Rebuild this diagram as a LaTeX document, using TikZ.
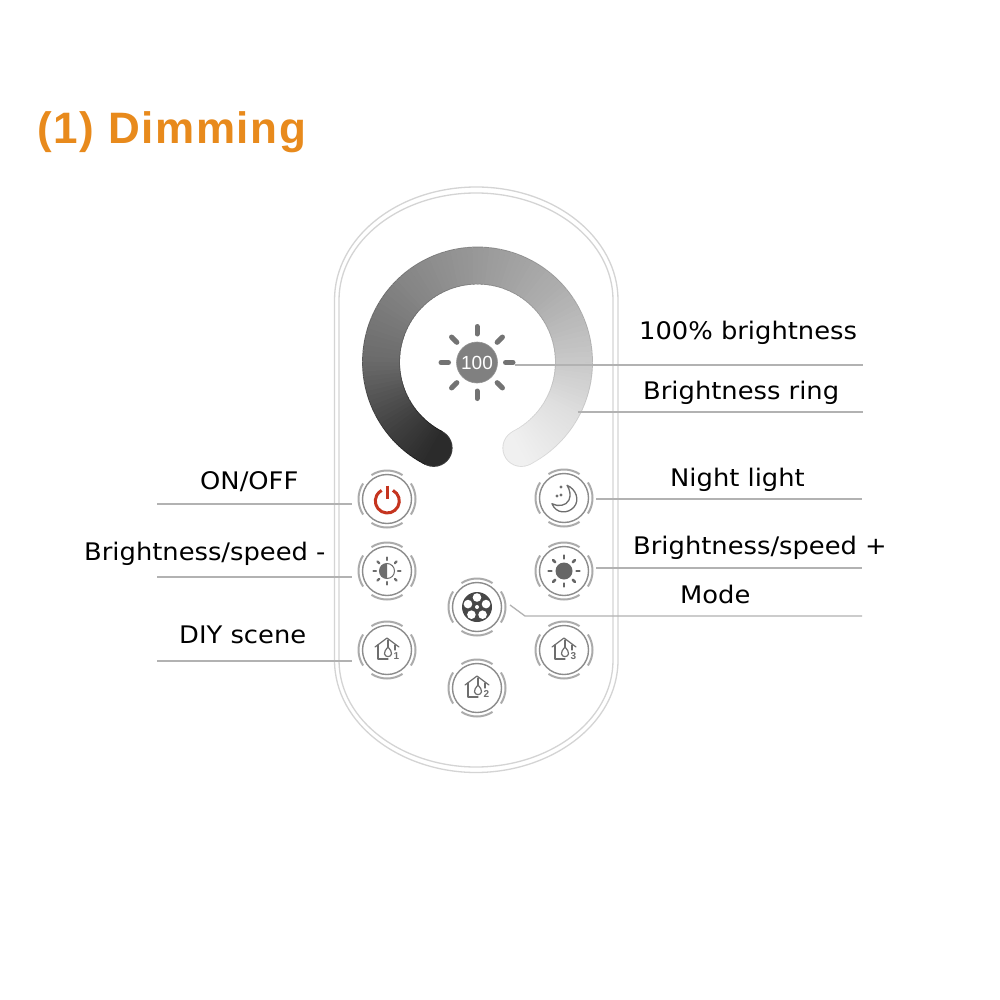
\documentclass[tikz,border=0pt]{standalone}
\usepackage{fontspec}
\setmainfont{DejaVu Sans}
\newfontfamily\arialf{Liberation Sans}
\newfontfamily\labf[FakeStretch=1.065]{DejaVu Sans}
\definecolor{titleor}{HTML}{E88A1C}
\definecolor{shellc}{HTML}{D4D4D4}
\definecolor{leadc}{HTML}{B2B2B2}
\definecolor{btnc}{HTML}{8C8C8C}
\definecolor{arcc}{HTML}{ABABAB}
\definecolor{iconc}{HTML}{6E6E6E}
\definecolor{redc}{HTML}{C5341F}
\tikzset{
  shell/.style={draw=shellc,line width=1.3pt},
  leader/.style={draw=leadc,line width=1.3pt},
  lab/.style={anchor=base west,inner sep=0pt,font=\labf\fontsize{24.2}{28}\selectfont,text=black},
  btn/.style={circle,draw=btnc,line width=1.4pt,minimum size=49pt,inner sep=0pt},
  ico/.style={draw=iconc,line width=1.2pt,line cap=round,line join=round},
}
\usetikzlibrary{calc}
\newcommand{\btnarcs}[1]{%
  \foreach \c in {0,90,180,270}{
    \pgfmathsetmacro{\s}{\c-33}
    \draw[arcc,line width=2pt] ($(#1)+(\s:28.5pt)$) arc[start angle=\s,delta angle=66,radius=28.5pt];
  }}
\newcommand{\sunrays}[5]{% centre, r0, r1, width, colour
  \foreach \c in {0,45,...,315}{
    \draw[#5,line width=#4pt,line cap=round] ($(#1)+(\c:#2pt)$) -- ($(#1)+(\c:#3pt)$);
  }}
\newcommand{\houseicon}[2]{%
  \begin{scope}[shift={(#1)}]
    \draw[ico] (-12,3) -- (0,12) -- (12,3);
    \draw[ico] (-9,5) -- (-9,-9) -- (1,-9);
    \draw[ico] (8,5) -- (8,0);
    \draw[ico] (1,10) -- (1,3);
    \draw[ico] (1,3) .. controls (3.5,0) and (5,-2) .. (4.5,-4) .. controls (3.5,-7.5) and (-1.5,-7.5) .. (-2.5,-4) .. controls (-3,-2) and (-1.5,0) .. (1,3);
    \node[inner sep=0pt,font=\arialf\bfseries\fontsize{10}{10}\selectfont,text=iconc] (n#2) at (9.5,-6) {#2};
  \end{scope}}
\newcommand{\ringpass}[2]{% colour offset, line width
  \foreach \aa/\ab/\ga/\gb in {243/220/.17/.25,220/180/.25/.42,180/135/.42/.52,135/90/.52/.60,90/45/.60/.68,45/0/.68/.79,0/-30/.79/.88,-30/-63/.88/.94}{
    \foreach \n in {0,...,15}{
      \pgfmathsetmacro{\st}{\aa+(\ab-\aa)*\n/16}
      \pgfmathsetmacro{\dl}{(\ab-\aa)/16-0.5}
      \pgfmathsetmacro{\g}{max(0,\ga+(\gb-\ga)*\n/16+#1)}
      \definecolor{ringc}{gray}{\g}
      \draw[ringc,line width=#2pt] ($(ringcen)+(\st:96.5pt)$) arc[start angle=\st,delta angle=\dl,radius=96.5pt];
    }
  }}
\begin{document}
\begin{tikzpicture}[x=1pt,y=1pt]
\useasboundingbox (0,0) rectangle (1000,-1000);
\fill[white] (0,0) rectangle (1000,-1000);

% title
\node[anchor=base west,inner sep=0pt,text=titleor,font=\arialf\bfseries\fontsize{44}{48}\selectfont\addfontfeatures{LetterSpace=3.7}] (title) at (37,-144) {(1) Dimming};

% shell
\draw[shell] (334.5,-300) arc[start angle=180,end angle=0,x radius=141.75pt,y radius=113pt] -- (618,-660) .. controls (618,-725) and (550,-772.5) .. (476,-772.5) .. controls (402,-772.5) and (334.5,-725) .. (334.5,-660) -- cycle;
\draw[shell] (339,-300) arc[start angle=180,end angle=0,x radius=137pt,y radius=107pt] -- (613,-660) .. controls (613,-722) and (548,-767) .. (476,-767) .. controls (404,-767) and (339,-722) .. (339,-660) -- cycle;

% ring
\coordinate (ringcen) at (477.5,-362);
\fill[black!75] ($(ringcen)+(243:96.5pt)$) circle[radius=18.9pt];
\fill[black!14] ($(ringcen)+(-63:96.5pt)$) circle[radius=18.9pt];
\ringpass{-0.07}{37.8}
\fill[black!83] ($(ringcen)+(243:96.5pt)$) circle[radius=18pt];
\fill[black!6] ($(ringcen)+(-63:96.5pt)$) circle[radius=18pt];
\ringpass{0}{36}

% sun
\node[circle,fill=black!50,draw=black!42,line width=.6pt,minimum size=41pt,inner sep=0pt,text=white,font=\arialf\fontsize{19}{19}\selectfont] (sun) at (477,-362.5) {100};
\sunrays{sun.center}{28.5}{36}{5}{black!55}

% buttons
\node[btn] (power) at (387,-499) {};
\node[btn] (minus) at (387,-571) {};
\node[btn] (diy1)  at (387,-650) {};
\node[btn] (night) at (564,-498) {};
\node[btn] (plus)  at (564,-571) {};
\node[btn] (mode)  at (477,-607) {};
\node[btn] (diy3)  at (564,-650) {};
\node[btn] (diy2)  at (477,-688) {};
\foreach \b in {power,minus,diy1,night,plus,mode,diy3,diy2}{\btnarcs{\b.center}}

% power icon
\coordinate (pw) at (387.3,-501);
\draw[redc,line width=3pt] ($(pw)+(62:12pt)$) arc[start angle=62,delta angle=-304,radius=12pt];
\draw[redc,line width=2.8pt] (387.3,-485.5) -- (387.3,-499);

% half sun
\fill[iconc] (minus.center) ++(0,7.5) arc[start angle=90,delta angle=180,radius=7.5pt] -- cycle;
\draw[iconc,line width=1pt] (minus.center) circle[radius=7.5pt];
\sunrays{minus.center}{11}{13.5}{2.2}{iconc}

% full sun
\fill[black!60] (plus.center) circle[radius=8.5pt];
\sunrays{plus.center}{12.5}{15.5}{2.6}{black!60}

% moon
\draw[ico,line width=1.3pt] (567,-485.3) .. controls (576,-489) and (580,-500) .. (574,-507) .. controls (568,-514) and (556,-514) .. (552,-503.7) .. controls (558,-507) and (566,-506) .. (569,-500) .. controls (571,-495) and (570,-490) .. (567,-485.3) -- cycle;
\fill[iconc] (561,-487) circle[radius=1.7pt] (557,-496) circle[radius=1.7pt] (561,-495) circle[radius=1.7pt];

% mode icon
\fill[black!72] (mode.center) circle[radius=15pt];
\foreach \c in {90,162,234,306,18}{\fill[white] ($(mode.center)+(\c:9.5pt)$) circle[radius=4.3pt];}
\fill[white] (mode.center) circle[radius=2pt];

% houses
\houseicon{diy1.center}{1}
\houseicon{diy2.center}{2}
\houseicon{diy3.center}{3}

% connectors
\coordinate (a1) at (515,-365);  \coordinate (a2) at (863,-365);
\coordinate (b1) at (578,-412);  \coordinate (b2) at (863,-412);
\coordinate (c1) at (596,-499);  \coordinate (c2) at (862,-499);
\coordinate (d1) at (596,-568);  \coordinate (d2) at (862,-568);
\coordinate (e1) at (510,-605);  \coordinate (e3) at (525,-616); \coordinate (e2) at (862,-616);
\coordinate (f1) at (157,-504);  \coordinate (f2) at (352,-504);
\coordinate (g1) at (157,-577);  \coordinate (g2) at (352,-577);
\coordinate (h1) at (157,-661);  \coordinate (h2) at (352,-661);
\draw[leader] (a1) -- (a2);
\draw[leader] (b1) -- (b2);
\draw[leader] (c1) -- (c2);
\draw[leader] (d1) -- (d2);
\draw[leader] (e1) -- (e3) -- (e2);
\draw[leader] (f1) -- (f2);
\draw[leader] (g1) -- (g2);
\draw[leader] (h1) -- (h2);

% labels
\node[lab] (l1) at (639,-339) {100\% brightness};
\node[lab] (l2) at (643,-399) {Brightness ring};
\node[lab] (l3) at (670,-486) {Night light};
\node[lab] (l4) at (633,-554) {Brightness/speed +};
\node[lab] (l5) at (680,-603) {Mode};
\node[lab] (l6) at (200,-489) {ON/OFF};
\node[lab] (l7) at (84,-560) {Brightness/speed -};
\node[lab] (l8) at (179,-643) {DIY scene};
\end{tikzpicture}
\end{document}
